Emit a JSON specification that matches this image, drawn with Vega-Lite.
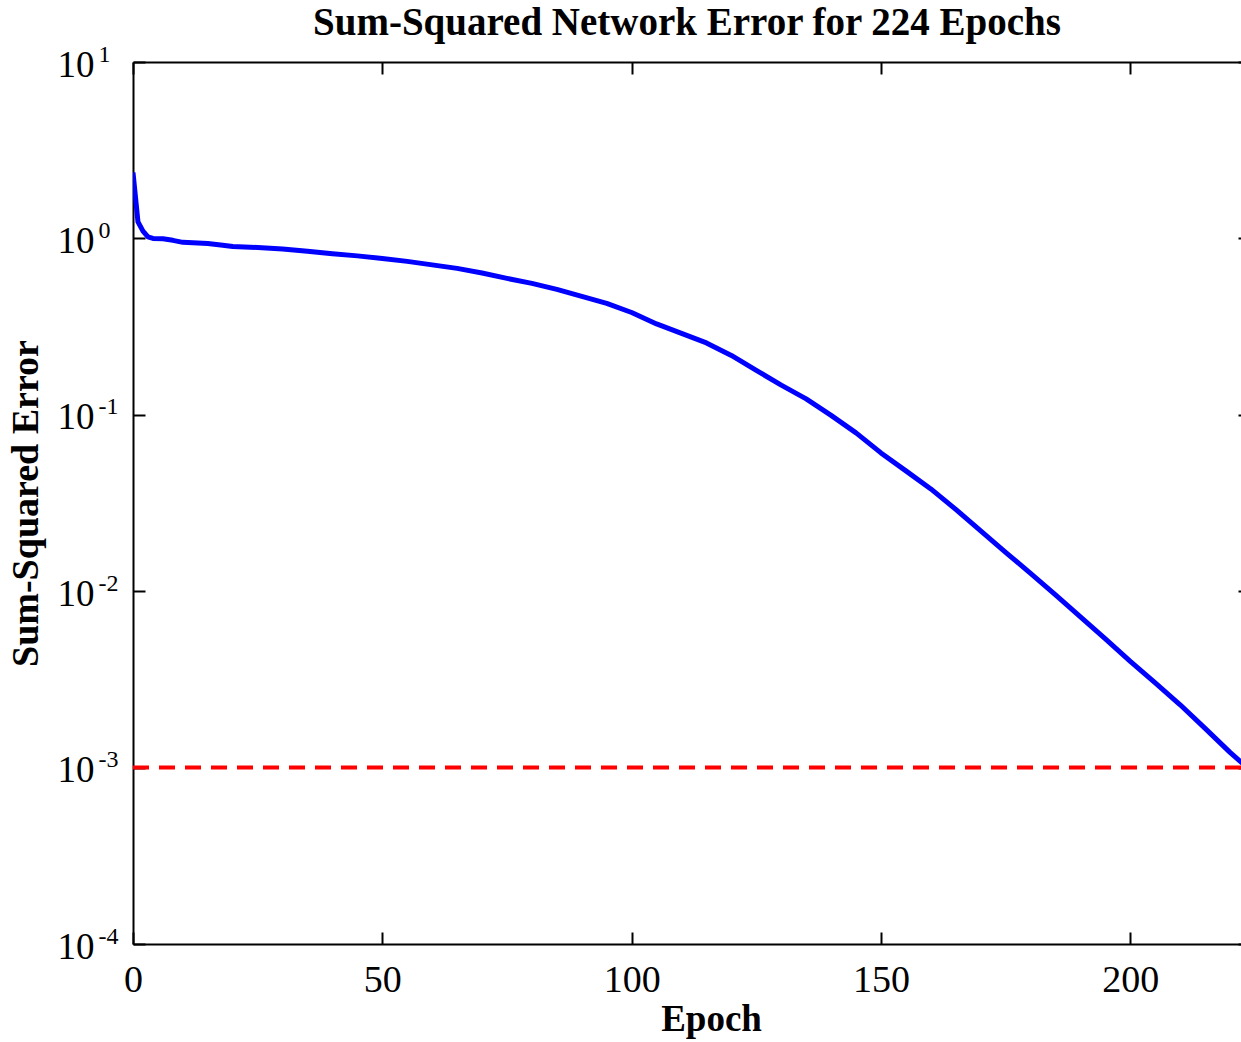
{
  "$schema": "https://vega.github.io/schema/vega-lite/v6.json",
  "width": 1108,
  "height": 882,
  "autosize": {"type": "none"},
  "padding": {"left": 133, "top": 62, "right": 0, "bottom": 98},
  "background": "white",
  "config": {"view": {"stroke": null}, "font": "Liberation Serif"},
  "title": {
    "text": "Sum-Squared Network Error for 224 Epochs",
    "font": "Liberation Serif",
    "fontSize": 39,
    "fontWeight": "bold",
    "color": "black",
    "anchor": "middle",
    "baseline": "alphabetic",
    "offset": -32
  },
  "resolve": {"axis": {"x": "independent", "y": "independent"}},
  "layer": [
    {
      "data": {
        "values": [
          {"epoch": 0, "sse": 2.36}, {"epoch": 1, "sse": 1.24}, {"epoch": 2, "sse": 1.1},
          {"epoch": 3, "sse": 1.02}, {"epoch": 4, "sse": 1.0}, {"epoch": 6, "sse": 0.995},
          {"epoch": 8, "sse": 0.975}, {"epoch": 10, "sse": 0.95}, {"epoch": 12, "sse": 0.945},
          {"epoch": 15, "sse": 0.935}, {"epoch": 18, "sse": 0.915}, {"epoch": 20, "sse": 0.9},
          {"epoch": 25, "sse": 0.888}, {"epoch": 30, "sse": 0.872}, {"epoch": 35, "sse": 0.845},
          {"epoch": 40, "sse": 0.818}, {"epoch": 45, "sse": 0.796}, {"epoch": 50, "sse": 0.77},
          {"epoch": 55, "sse": 0.741}, {"epoch": 60, "sse": 0.708}, {"epoch": 65, "sse": 0.676},
          {"epoch": 70, "sse": 0.637}, {"epoch": 75, "sse": 0.593}, {"epoch": 80, "sse": 0.556},
          {"epoch": 85, "sse": 0.514}, {"epoch": 90, "sse": 0.469}, {"epoch": 95, "sse": 0.428},
          {"epoch": 100, "sse": 0.38}, {"epoch": 105, "sse": 0.3275}, {"epoch": 110, "sse": 0.2893},
          {"epoch": 115, "sse": 0.2556}, {"epoch": 120, "sse": 0.2171}, {"epoch": 125, "sse": 0.1785},
          {"epoch": 130, "sse": 0.1472}, {"epoch": 135, "sse": 0.1231}, {"epoch": 140, "sse": 0.0992},
          {"epoch": 145, "sse": 0.079}, {"epoch": 150, "sse": 0.0608}, {"epoch": 155, "sse": 0.0481},
          {"epoch": 160, "sse": 0.038}, {"epoch": 165, "sse": 0.0291}, {"epoch": 170, "sse": 0.022},
          {"epoch": 175, "sse": 0.0166}, {"epoch": 180, "sse": 0.01262}, {"epoch": 185, "sse": 0.00953},
          {"epoch": 190, "sse": 0.00715}, {"epoch": 195, "sse": 0.00537}, {"epoch": 200, "sse": 0.004},
          {"epoch": 205, "sse": 0.00302}, {"epoch": 210, "sse": 0.00227}, {"epoch": 215, "sse": 0.00167},
          {"epoch": 220, "sse": 0.00122}, {"epoch": 224, "sse": 0.00097}
        ]
      },
      "mark": {"type": "line", "color": "#0000ff", "strokeWidth": 5, "strokeJoin": "round", "clip": true},
      "encoding": {
        "x": {
          "field": "epoch", "type": "quantitative",
          "scale": {"domain": [0, 222.2], "nice": false, "zero": false},
          "axis": {
            "orient": "bottom", "values": [0, 50, 100, 150, 200], "grid": false,
            "domain": true, "domainColor": "black", "domainWidth": 2,
            "ticks": true, "tickSize": -12, "tickColor": "black", "tickWidth": 2,
            "labelFont": "Liberation Serif", "labelFontSize": 38, "labelColor": "black",
            "labelPadding": 29, "labelFlush": false, "labelOverlap": false,
            "title": "Epoch", "titleFont": "Liberation Serif", "titleFontSize": 37,
            "titleFontWeight": "bold", "titleColor": "black", "titlePadding": 2, "titleX": 578
          }
        },
        "y": {
          "field": "sse", "type": "quantitative",
          "scale": {"type": "log", "domain": [0.0001, 10], "nice": false},
          "axis": {
            "orient": "left", "values": [0.0001, 0.001, 0.01, 0.1, 1, 10], "grid": false,
            "domain": true, "domainColor": "black", "domainWidth": 2,
            "ticks": true, "tickSize": -12, "tickColor": "black", "tickWidth": 2,
            "labelExpr": "'10'", "labelAlign": "right", "labelBaseline": "middle", "labelOffset": 3,
            "labelFont": "Liberation Serif", "labelFontSize": 37, "labelColor": "black",
            "labelPadding": 51, "labelFlush": false, "labelOverlap": false,
            "title": "Sum-Squared Error", "titleFont": "Liberation Serif", "titleFontSize": 38,
            "titleFontWeight": "bold", "titleColor": "black", "titlePadding": 12
          }
        }
      }
    },
    {
      "data": {"values": [{"goal": 0.001}]},
      "mark": {"type": "rule", "color": "#ff0000", "strokeWidth": 4, "strokeDash": [16, 10]},
      "encoding": {
        "y": {
          "field": "goal", "type": "quantitative",
          "axis": {
            "orient": "left", "values": [0.0001, 0.001, 0.01, 0.1, 1, 10], "grid": false,
            "domain": false, "ticks": false,
            "labelExpr": "datum.value > 5 ? '1' : datum.value > 0.5 ? '0' : datum.value > 0.05 ? '-1' : datum.value > 0.005 ? '-2' : datum.value > 0.0005 ? '-3' : '-4'",
            "labelAlign": "left", "labelBaseline": "middle", "labelOffset": -8,
            "labelFont": "Liberation Serif", "labelFontSize": 24, "labelColor": "black",
            "labelPadding": 35, "labelFlush": false, "labelOverlap": false,
            "title": null
          }
        }
      }
    },
    {
      "data": {"values": [{"e": 0, "v": 1}]},
      "mark": {"type": "point", "opacity": 0},
      "encoding": {
        "x": {
          "field": "e", "type": "quantitative",
          "axis": {
            "orient": "top", "values": [0, 50, 100, 150, 200], "grid": false,
            "domain": true, "domainColor": "black", "domainWidth": 2,
            "ticks": true, "tickSize": -12, "tickColor": "black", "tickWidth": 2,
            "labels": false, "title": null
          }
        },
        "y": {
          "field": "v", "type": "quantitative",
          "axis": {
            "orient": "right", "values": [0.0001, 0.001, 0.01, 0.1, 1, 10], "grid": false,
            "domain": false, "ticks": true, "tickSize": -3, "tickColor": "black", "tickWidth": 2,
            "labels": false, "title": null
          }
        }
      }
    }
  ]
}
